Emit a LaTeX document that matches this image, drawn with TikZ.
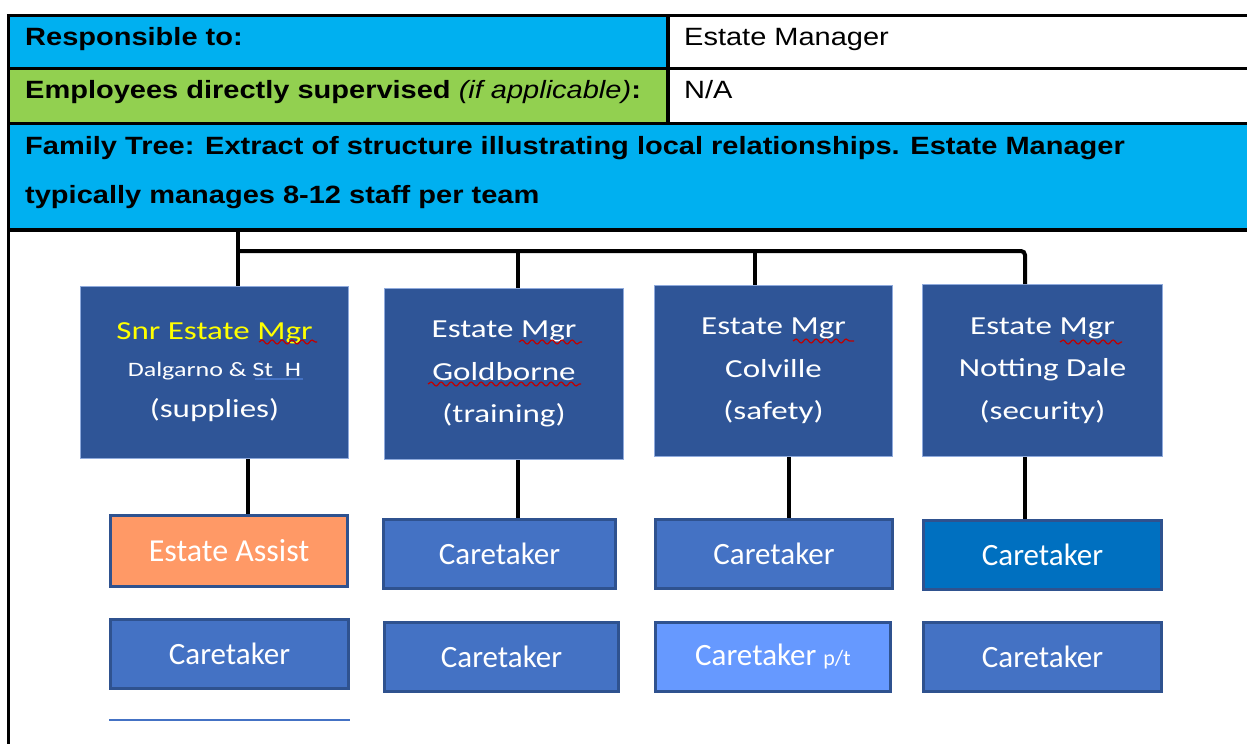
\documentclass[tikz,border=0pt]{standalone}
\usepackage{fontspec}
\usepackage{tikz}
\usetikzlibrary{decorations.pathmorphing}
\setmainfont{Liberation Sans}[FakeStretch=1.16]
\newfontfamily\boxfont{Carlito}
\newfontfamily\mgrfont{Carlito}[FakeStretch=1.27]

\definecolor{cellblue}{HTML}{00B0F0}
\definecolor{cellgreen}{HTML}{92D050}
\definecolor{mgrfill}{HTML}{2F5597}
\definecolor{mgredge}{HTML}{8FAADC}
\definecolor{staffill}{HTML}{4472C4}
\definecolor{staffedge}{HTML}{2F528F}
\definecolor{assistfill}{HTML}{FF9966}
\definecolor{darkfill}{HTML}{0070C0}
\definecolor{lightfill}{HTML}{6699FF}
\definecolor{spellred}{HTML}{C00000}
\definecolor{snrtext}{HTML}{FFFF00}

\begin{document}
\begin{tikzpicture}[x=1pt, y=-1pt,
    rule/.style={line width=3.5pt},
    link/.style={line width=4pt},
    cell/.style={anchor=base west, inner sep=0pt, font=\fontsize{25}{30}\selectfont},
    mgr/.style={draw=mgredge, line width=1pt, fill=mgrfill, text=white, inner sep=0pt, align=center, font=\mgrfont\fontsize{26}{42.5}\selectfont},
    staff/.style={draw=staffedge, line width=3pt, fill=staffill, text=white, inner sep=0pt, minimum height=69, font=\boxfont\fontsize{31}{36}\selectfont},
    squiggle/.style={spellred, line width=1.2pt, decorate, decoration={snake, segment length=10pt, amplitude=2pt}}]
    \useasboundingbox (0,0) rectangle (1247,744);

    % job table header
    \fill[cellblue] (8.5,15.5) rectangle (668,68.5);
    \fill[cellgreen] (8.5,68.5) rectangle (668,123.5);
    \fill[cellblue] (8.5,123.5) rectangle (1247,230);
    \draw[rule] (6.75,15.5) -- (1247,15.5);
    \draw[rule] (8.5,68.5) -- (1247,68.5);
    \draw[rule] (8.5,123.5) -- (1247,123.5);
    \draw[rule] (8.5,230) -- (1247,230);
    \draw[rule] (668,15.5) -- (668,123.5);
    \draw[rule] (8.5,15.5) -- (8.5,744);

    \node (respTo) at (25,45) [cell] {\bfseries Responsible to:};
    \node (respName) at (684,45) [cell] {Estate Manager};
    \node (supTo) at (25,98) [cell] {\bfseries Employees directly supervised {\mdseries\itshape (if applicable)}:};
    \node (supName) at (684,98) [cell] {N/A};
    \node (treeA) at (25,154) [cell] {\bfseries Family Tree: Extract of structure illustrating local relationships. Estate Manager};
    \node (treeB) at (25,203) [cell] {\bfseries typically manages 8-12 staff per team};

    % estate managers
    \node (mgrA) at (214.5,372.5) [mgr, minimum width=268, minimum height=172] {\textcolor{snrtext}{Snr Estate Mgr}\\[-5.5pt]{\fontsize{20.5}{37}\selectfont Dalgarno \& St\ \ H}\\[-1.5pt](supplies)};
    \node (mgrB) at (504,374) [mgr, minimum width=239, minimum height=171] {Estate Mgr\\Goldborne\\(training)};
    \node (mgrC) at (773.5,371) [mgr, minimum width=238, minimum height=171] {Estate Mgr\\Colville\\(safety)};
    \node (mgrD) at (1042.5,370.5) [mgr, minimum width=240, minimum height=172] {Estate Mgr\\Notting Dale\\(security)};

    % staff under each manager
    \node (assistA) at (229,551) [staff, fill=assistfill, minimum width=237, minimum height=71] {\fontsize{32}{36}\selectfont Estate Assist};
    \node (careB1) at (499.5,554) [staff, minimum width=232] {Caretaker};
    \node (careC1) at (774,554) [staff, minimum width=237] {Caretaker};
    \node (careD1) at (1042.5,555) [staff, fill=darkfill, minimum width=238] {Caretaker};
    \node (careA2) at (229.5,654) [staff, minimum width=238] {Caretaker};
    \node (careB2) at (501.5,657) [staff, minimum width=234] {Caretaker};
    \node (careC2) at (773,657) [staff, fill=lightfill, minimum width=235] {Caretaker {\fontsize{22}{26}\selectfont p/t}};
    \node (careD2) at (1042.5,657) [staff, minimum width=238] {Caretaker};
    \draw[staffill, line width=1.5pt] (109,720) -- (350,720);

    % reporting lines
    \coordinate (root) at (238,230);
    \coordinate (dropB) at (518,251);
    \coordinate (dropC) at (755,251);
    \coordinate (busR) at (1025,251);
    \draw[link] (root) -- (root |- mgrA.north);
    \draw[link, rounded corners=4pt] (root |- busR) -- (busR) -- (busR |- mgrD.north);
    \draw[link] (dropB) -- (dropB |- mgrB.north);
    \draw[link] (dropC) -- (dropC |- mgrC.north);

    \draw[link] ([xshift=33.5pt]mgrA.south) -- ([xshift=19pt]assistA.north);
    \draw[link] ([xshift=14pt]mgrB.south) -- ([xshift=18.5pt]careB1.north);
    \draw[link] ([xshift=15.5pt]mgrC.south) -- ([xshift=15pt]careC1.north);
    \draw[link] ([xshift=-17.5pt]mgrD.south) -- ([xshift=-17.5pt]careD1.north);

    % proofing marks
    \draw[squiggle] ([shift={(44.5,-30.5)}]mgrA.center) -- ++(58,0);
    \draw[staffill, line width=1.2pt] ([shift={(40.5,6.5)}]mgrA.center) -- ++(48,0);
    \draw[squiggle] ([shift={(15,-32)}]mgrB.center) -- ++(63,0);
    \draw[squiggle] ([shift={(-76,10)}]mgrB.center) -- ++(153,0);
    \draw[squiggle] ([shift={(19.5,-30)}]mgrC.center) -- ++(61,0);
    \draw[squiggle] ([shift={(17.5,-28.5)}]mgrD.center) -- ++(62,0);
\end{tikzpicture}
\end{document}
